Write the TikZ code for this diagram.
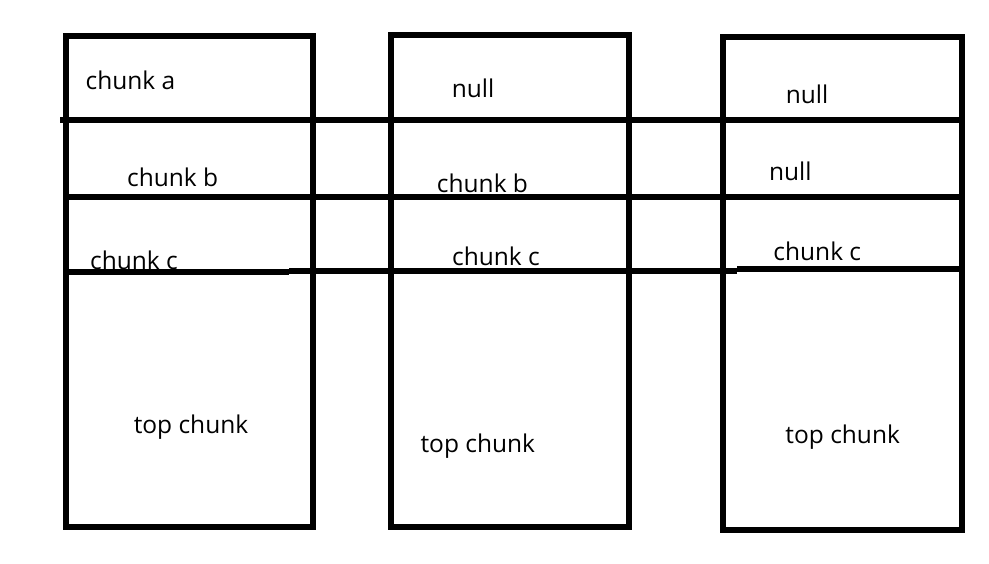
\documentclass[tikz,border=0pt]{standalone}
\usepackage{fontspec}
\setmainfont{Open Sans}
\begin{document}
\begin{tikzpicture}[x=1pt,y=-1pt,
  thick line/.style={line width=5.5pt},
  lbl/.style={font=\fontsize{24.5}{28}\selectfont, inner sep=0pt, anchor=center}]
\useasboundingbox[fill=white] (0,0) rectangle (989,564);
% boxes
\draw[thick line] (66,36) rectangle (313,527);
\draw[thick line] (391,35) rectangle (629,527);
\draw[thick line] (723,37) rectangle (962,530);
% horizontal dividers
\coordinate (h1a) at (60,120);  \coordinate (h1b) at (964,120);
\coordinate (h2a) at (66,197);  \coordinate (h2b) at (962,197);
\coordinate (h3a) at (63,272);  \coordinate (h3b) at (289,272);
\coordinate (h3c) at (289,271); \coordinate (h3d) at (737,271);
\coordinate (h3e) at (737,269); \coordinate (h3f) at (962,269);
\draw[thick line] (h1a) -- (h1b);
\draw[thick line] (h2a) -- (h2b);
\draw[thick line] (h3a) -- (h3b);
\draw[thick line] (h3c) -- (h3d);
\draw[thick line] (h3e) -- (h3f);
% labels column 1
\node[lbl] (a1) at (130.5,80.3) {chunk a};
\node[lbl] (b1) at (172.7,177.5) {chunk b};
\node[lbl] (c1) at (134,260.3) {chunk c};
\node[lbl] (t1) at (191,426.7) {top chunk};
% labels column 2
\node[lbl] (n2) at (473,88) {null};
\node[lbl] (b2) at (482.5,183.8) {chunk b};
\node[lbl] (c2) at (496,256.8) {chunk c};
\node[lbl] (t2) at (477.8,445.7) {top chunk};
% labels column 3
\node[lbl] (n3a) at (807,94.3) {null};
\node[lbl] (n3b) at (790.3,171.3) {null};
\node[lbl] (c3) at (817.3,251.7) {chunk c};
\node[lbl] (t3) at (842.7,437.3) {top chunk};
\end{tikzpicture}
\end{document}
